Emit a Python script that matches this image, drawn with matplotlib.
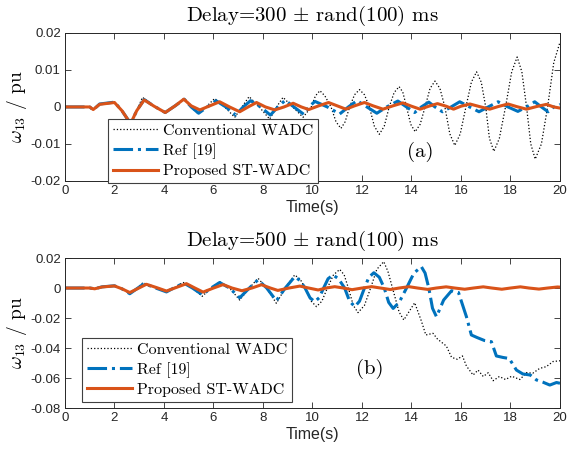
import matplotlib
matplotlib.use('Agg')
import matplotlib.pyplot as plt

plt.rcParams['mathtext.fontset'] = 'cm'
plt.rcParams['axes.unicode_minus'] = False

# colours (MATLAB defaults)
c_conv = 'black'
c_ref = '#0072BD'
c_prop = '#D95319'

legend_labels = ['Conventional WADC', 'Ref [19]', 'Proposed ST-WADC']
xticks = [0, 2, 4, 6, 8, 10, 12, 14, 16, 18, 20]

# ---- panel (a): delay 300 +- rand(100) ms ----
a_conv_t = [0, 1.0, 1.14, 1.4, 2.0, 2.3, 2.65, 2.9, 3.13, 3.6, 4.07, 4.45, 4.84, 5.1, 5.38, 5.7,
            6.05, 6.45, 6.86, 7.15, 7.44, 7.85, 8.27, 8.55, 8.81, 9.2, 9.62, 9.95, 10.12, 10.3,
            10.5, 10.75, 10.95, 11.15, 11.32, 11.5, 11.7, 11.9, 12.1, 12.3, 12.5, 12.7, 12.9,
            13.1, 13.3, 13.5, 13.65, 13.8, 13.97, 14.15, 14.35, 14.55, 14.75, 14.95, 15.15, 15.35,
            15.55, 15.75, 15.97, 16.2, 16.42, 16.63, 16.82, 17.0, 17.15, 17.33, 17.55, 17.8,
            18.05, 18.27, 18.46, 18.65, 18.82, 19.0, 19.25, 19.5, 19.75, 20.0]
a_conv_y = [0, 0, -0.0008, 0.0008, 0.0013, -0.001, -0.0045, -0.001, 0.0026, 0.0002, -0.0017, 0.0003,
            0.0023, 0.0, -0.0019, 0.0, 0.0023, 0.0, -0.0028, 0.0, 0.0028, 0.0, -0.0033, 0.0, 0.0026,
            0.0, -0.0028, 0.0, 0.003, 0.0044, 0.003, 0.0, -0.004, -0.0058, -0.004, 0.0, 0.0033,
            0.0047, 0.0033, 0.0, -0.0052, -0.0074, -0.0052, 0.0, 0.0039, 0.0055, 0.004, 0.0,
            -0.0047, -0.0067, -0.0047, 0.0, 0.005, 0.007, 0.005, 0.0, -0.0073, -0.0104, -0.0073,
            0.0, 0.0067, 0.0095, 0.0067, 0.0, -0.0085, -0.012, -0.0085, 0.0, 0.0095, 0.0135, 0.0095,
            0.0, -0.01, -0.0141, -0.01, 0.0, 0.012, 0.0175]

a_ref_t = [0, 1.0, 1.14, 1.4, 2.0, 2.3, 2.65, 2.9, 3.2, 3.6, 4.05, 4.45, 4.82, 5.1, 5.4, 5.75,
           6.1, 6.5, 6.9, 7.2, 7.5, 7.9, 8.3, 8.6, 8.9, 9.25, 9.65, 9.85, 10.1, 10.6, 11.1, 11.45,
           11.8, 12.2, 12.6, 13.0, 13.45, 13.8, 14.13, 14.4, 14.7, 14.95, 15.25, 15.6, 15.95,
           16.35, 16.73, 17.1, 17.5, 17.9, 18.3, 18.65, 18.98, 19.25, 19.52, 19.75, 20.0]
a_ref_y = [0, 0, -0.0008, 0.0008, 0.0013, -0.001, -0.0045, -0.001, 0.002, 0.0002, -0.0015, 0.0003,
           0.0021, 0.0, -0.0017, 0.0, 0.0017, 0.0, -0.0022, 0.0, 0.0017, 0.0, -0.0022, 0.0, 0.0018,
           0.0, -0.002, 0.0, 0.0015, 0.0, -0.0019, 0.0, 0.0017, 0.0, -0.0017, 0.0, 0.0016, 0.0,
           -0.0015, 0.0, 0.0013, 0.0, -0.0013, 0.0, 0.0014, 0.0, -0.0013, 0.0, 0.0014, 0.0, -0.0012,
           0.0, 0.0014, 0.0, -0.0013, 0.0, 0.0007]

a_prop_t = [0, 1.0, 1.14, 1.4, 2.0, 2.3, 2.65, 2.9, 3.2, 3.6, 4.05, 4.45, 4.8, 5.1, 5.45, 5.85,
            6.25, 6.65, 7.06, 7.4, 7.74, 8.1, 8.48, 8.85, 9.22, 9.55, 9.85, 10.25, 10.65, 11.0,
            11.35, 11.7, 12.1, 12.45, 12.85, 13.25, 13.65, 14.0, 14.35, 14.7, 15.05, 15.4, 15.7,
            16.0, 16.36, 16.75, 17.16, 17.5, 17.9, 18.25, 18.65, 19.05, 19.45, 19.75, 20.0]
a_prop_y = [0, 0, -0.0007, 0.0007, 0.0012, -0.001, -0.0045, -0.001, 0.0019, 0.0002, -0.0015, 0.0003,
            0.0021, 0.0003, -0.0008, 0.0003, 0.0014, 0.0, -0.0013, 0.0, 0.0012, 0.0, -0.0008, 0.0,
            0.001, 0.0, -0.0007, 0.0003, 0.0012, 0.0003, -0.0006, 0.0003, 0.0012, 0.0003, -0.0006,
            0.0003, 0.0011, 0.0002, -0.0006, 0.0002, 0.0009, 0.0002, -0.0006, 0.0002, 0.0008, 0.0001,
            -0.0006, 0.0001, 0.0008, 0.0001, -0.0006, 0.0001, 0.0007, 0.0, -0.0003]

a_yticks = [-0.02, -0.01, 0, 0.01, 0.02]
a_yticklabels = ['-0.02', '-0.01', '0', '0.01', '0.02']

# ---- panel (b): delay 500 +- rand(100) ms ----
b_conv_t = [0, 1.0, 1.2, 1.5, 2.0, 2.3, 2.62, 2.9, 3.15, 3.6, 4.1, 4.45, 4.77, 5.15, 5.55, 5.9,
            6.25, 6.65, 7.06, 7.45, 7.8, 8.15, 8.54, 8.9, 9.28, 9.5, 9.7, 9.95, 10.16, 10.38, 10.6,
            10.85, 11.1, 11.28, 11.45, 11.65, 11.84, 12.1, 12.35, 12.6, 12.88, 13.05, 13.3, 13.5,
            13.69, 14.13, 14.4, 14.58, 14.87, 15.05, 15.41, 15.62, 15.85, 16.06, 16.22, 16.49,
            16.69, 16.9, 17.1, 17.3, 17.55, 17.8, 18.05, 18.38, 18.65, 18.9, 19.18, 19.45, 19.72,
            20.0]
b_conv_y = [0, 0, -0.0005, 0.0008, 0.0015, -0.0005, -0.0038, -0.0005, 0.0036, 0.0004, -0.0028,
            0.0005, 0.0038, 0.0, -0.0055, 0.0, 0.0042, 0.0, -0.008, 0.0, 0.0065, 0.0, -0.0102, 0.0,
            0.0087, 0.006, 0.0, -0.0088, -0.0124, -0.0088, 0.0, 0.0088, 0.0124, 0.0088, 0.0, -0.0116,
            -0.0164, -0.0116, 0.0, 0.0125, 0.0176, 0.011, -0.004, -0.016, -0.0213, -0.0098, -0.022,
            -0.0313, -0.0302, -0.034, -0.0387, -0.0462, -0.0475, -0.0453, -0.052, -0.058, -0.0547,
            -0.059, -0.0565, -0.0618, -0.059, -0.061, -0.0588, -0.061, -0.0564, -0.0568, -0.0536,
            -0.0524, -0.049, -0.0485]

b_ref_t = [0, 1.0, 1.2, 1.5, 2.0, 2.3, 2.62, 2.9, 3.2, 3.6, 4.1, 4.45, 4.8, 5.15, 5.55, 5.9,
           6.25, 6.65, 7.06, 7.45, 7.8, 8.15, 8.54, 8.9, 9.28, 9.5, 9.7, 9.9, 10.09, 10.27, 10.45,
           10.63, 10.83, 11.05, 11.3, 11.5, 11.71, 11.9, 12.1, 12.28, 12.48, 12.7, 12.9, 13.08,
           13.26, 13.5, 13.8, 14.1, 14.4, 14.55, 14.7, 14.85, 15.01, 15.3, 15.62, 15.9, 16.22,
           16.42, 16.65, 16.95, 17.23, 17.43, 17.7, 17.95, 18.24, 18.5, 18.8, 19.05, 19.3, 19.59,
           19.86, 20.0]
b_ref_y = [0, 0, -0.0005, 0.0008, 0.0015, -0.0005, -0.0038, -0.0005, 0.003, 0.0004, -0.0026,
           0.0005, 0.0033, 0.0, -0.0045, 0.0, 0.0037, 0.0, -0.0065, 0.0, 0.0055, 0.0, -0.0085, 0.0,
           0.0075, 0.005, 0.0, -0.0065, -0.0091, -0.0065, 0.0, 0.0062, 0.0087, 0.0062, 0.0, -0.0088,
           -0.0124, -0.0088, 0.0, 0.0072, 0.0102, 0.0072, 0.0, -0.0096, -0.0136, -0.0096, 0.0, 0.01,
           0.0142, 0.01, 0.0, -0.0135, -0.0191, -0.008, -0.0018, -0.003, -0.0191, -0.0313, -0.033,
           -0.035, -0.0358, -0.0453, -0.0463, -0.047, -0.0547, -0.0573, -0.058, -0.0613, -0.0627,
           -0.0647, -0.063, -0.0635]

b_prop_t = [0, 1.0, 1.2, 1.5, 2.0, 2.3, 2.62, 2.95, 3.29, 3.7, 4.1, 4.5, 4.91, 5.25, 5.58, 6.0,
            6.39, 6.75, 7.15, 7.55, 7.94, 8.3, 8.6, 9.05, 9.49, 9.85, 10.23, 10.55, 10.9, 11.25,
            11.6, 12.0, 12.4, 12.75, 13.15, 13.5, 13.9, 14.25, 14.65, 15.0, 15.4, 15.75, 16.15,
            16.5, 16.9, 17.25, 17.65, 18.0, 18.4, 18.75, 19.15, 19.5, 19.9, 20.0]
b_prop_y = [0, 0, -0.0005, 0.0007, 0.0014, -0.0005, -0.003, -0.0003, 0.0025, 0.0003, -0.002,
            0.0004, 0.0029, 0.0, -0.0027, 0.0, 0.0023, 0.0, -0.0018, 0.0, 0.0022, 0.0, -0.0016, 0.0,
            0.0013, 0.0, -0.0013, 0.0, 0.0009, 0.0, -0.0011, 0.0, 0.0009, 0.0, -0.001, 0.0, 0.0009,
            0.0, -0.0009, 0.0, 0.0008, 0.0, -0.0008, 0.0, 0.0008, 0.0, -0.0008, 0.0, 0.0008, 0.0,
            -0.0007, 0.0, 0.0007, 0.0006]

b_yticks = [-0.08, -0.06, -0.04, -0.02, 0, 0.02]
b_yticklabels = ['-0.08', '-0.06', '-0.04', '-0.02', '0', '0.02']


def draw_panel(ax, conv, ref, prop, ylim, yticks, yticklabels, title, tag, tag_xy, leg_anchor):
    ax.plot(conv[0], conv[1], color=c_conv, linestyle=':', linewidth=0.9)
    ax.plot(ref[0], ref[1], color=c_ref, linestyle='-.', linewidth=2.2)
    ax.plot(prop[0], prop[1], color=c_prop, linestyle='-', linewidth=2.2)

    ax.set_xlim(0, 20)
    ax.set_ylim(*ylim)
    ax.set_xticks(xticks)
    ax.set_xticklabels([str(x) for x in xticks])
    ax.set_yticks(yticks)
    ax.set_yticklabels(yticklabels)
    ax.tick_params(direction='in', top=True, right=True, length=4, width=0.6,
                   labelsize=9.5, colors='0.15', pad=3)
    for lab in ax.get_xticklabels() + ax.get_yticklabels():
        lab.set_fontfamily('Liberation Sans')
    for s in ax.spines.values():
        s.set_linewidth(0.7)
        s.set_color('0.15')

    ax.set_xlabel('Time(s)', fontfamily='Liberation Sans', fontsize=11.5, color='0.15', labelpad=2)
    ax.set_ylabel(r'$\omega_{13}$ / pu', fontfamily='cmr10', fontsize=14, labelpad=1)
    ax.set_title(title, fontfamily='cmr10', fontsize=15, pad=9)
    ax.text(tag_xy[0], tag_xy[1], tag, ha='center', va='center', fontfamily='cmr10', fontsize=15)

    leg = ax.legend(legend_labels, loc='upper left', bbox_to_anchor=leg_anchor, borderaxespad=0,
                    fancybox=False, framealpha=1, edgecolor='0.25', handlelength=2.8,
                    handletextpad=0.35, labelspacing=0.33, borderpad=0.3,
                    prop={'family': 'cmr10', 'size': 11.5})
    leg.get_frame().set_linewidth(0.8)


fig = plt.figure(figsize=(5.67, 4.49), dpi=100)
ax1 = fig.add_axes([0.1146, 0.597, 0.873, 0.3296])
ax2 = fig.add_axes([0.1146, 0.0913, 0.873, 0.334])

draw_panel(ax1, (a_conv_t, a_conv_y), (a_ref_t, a_ref_y), (a_prop_t, a_prop_y),
           (-0.02, 0.02), a_yticks, a_yticklabels,
           r'Delay=300 $\pm$ rand(100) ms', '(a)', (14.34, -0.0122), (0.087, 0.419))
draw_panel(ax2, (b_conv_t, b_conv_y), (b_ref_t, b_ref_y), (b_prop_t, b_prop_y),
           (-0.08, 0.02), b_yticks, b_yticklabels,
           r'Delay=500 $\pm$ rand(100) ms', '(b)', (12.3, -0.054), (0.035, 0.469))

fig.savefig('out.png', dpi=100)
